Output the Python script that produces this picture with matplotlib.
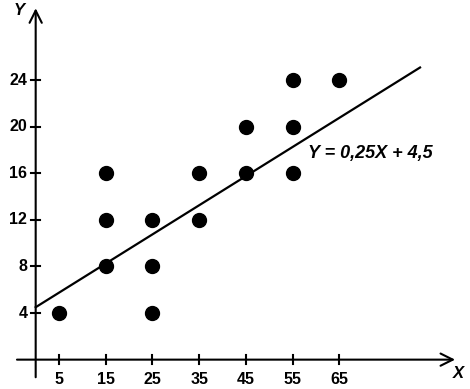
import matplotlib.pyplot as plt

# данные
xs = [5, 15, 15, 15, 25, 25, 25, 35, 35, 45, 45, 55, 55, 55, 65]
ys = [4, 16, 12, 8, 12, 8, 4, 16, 12, 20, 16, 24, 20, 16, 24]
x_ticks = [5, 15, 25, 35, 45, 55, 65]
y_ticks = [4, 8, 12, 16, 20, 24]
slope = 0.25
intercept = 4.5

plt.rcParams['font.family'] = ['Liberation Sans', 'DejaVu Sans']

fig = plt.figure(figsize=(4.70, 3.89), dpi=100)
ax = fig.add_axes([0, 0, 1, 1])
ax.set_xlim(-7.64, 93.0)
ax.set_ylim(-2.52, 30.87)
ax.axis('off')

# оси со стрелками
arrow = dict(arrowstyle='->', lw=1.5, color='black', mutation_scale=22)
ax.annotate('', xy=(90.4, 0), xytext=(-4.6, 0), arrowprops=arrow)
ax.annotate('', xy=(0, 30.4), xytext=(0, -1.75), arrowprops=arrow)

# засечки
for t in x_ticks:
    ax.plot([t, t], [-0.4, 0.4], color='black', lw=1.5)
    ax.text(t, -1.1, str(t), ha='center', va='top', fontsize=11.5, fontweight='bold')
for t in y_ticks:
    ax.plot([-0.9, 0.9], [t, t], color='black', lw=1.5)
    ax.text(-1.8, t, str(t), ha='right', va='center', fontsize=11.5, fontweight='bold')

ax.text(-3.6, 30.0, 'Y', ha='center', va='center', fontsize=12, fontweight='bold', style='italic')
ax.text(90.6, -1.15, 'X', ha='center', va='center', fontsize=12, fontweight='bold', style='italic')

# линия регрессии
lx = [0, 82.3]
ly = [slope * v + intercept for v in lx]
ax.plot(lx, ly, color='black', lw=1.6)
ax.text(58.3, 17.7, 'Y = 0,25X + 4,5', ha='left', va='center', fontsize=13,
        fontweight='bold', style='italic')

# точки
ax.scatter(xs, ys, s=100, color='black', zorder=3)

fig.savefig('out.png', dpi=100)
